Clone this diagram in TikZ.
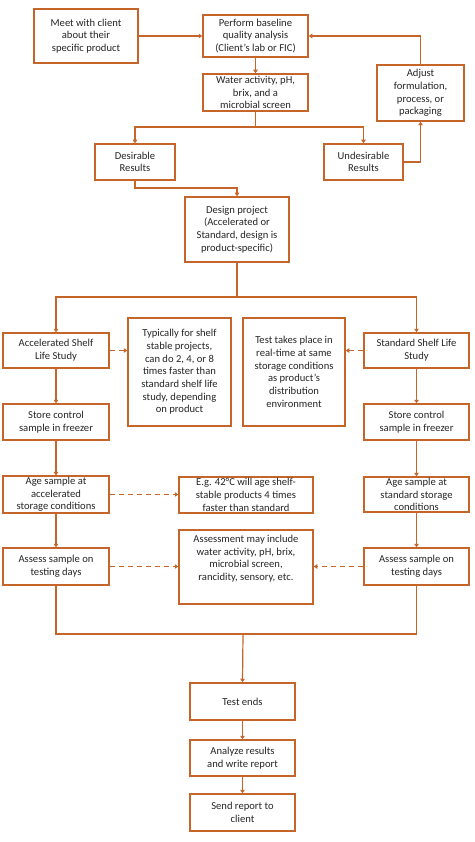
\documentclass[tikz,border=0pt]{standalone}
\usepackage{fontspec}
\setmainfont{Carlito}
\usetikzlibrary{arrows.meta}
\definecolor{orng}{HTML}{C5652A}
\definecolor{txt}{HTML}{262626}
\begin{document}
\begin{tikzpicture}[x=1pt,y=-1pt,
  bx/.style={draw=orng,line width=1.5pt,fill=white,align=center,inner sep=1pt,
    font=\fontsize{10.6}{12.7}\selectfont,text=txt},
  conn/.style={draw=orng,line width=1.2pt},
  arr/.style={conn,-{Triangle[width=4.5pt,length=3.5pt]}},
  darr/.style={arr,dash pattern=on 5pt off 4pt}]
\useasboundingbox (0,0) rectangle (474,842);
\fill[white] (0,0) rectangle (474,842);
\newcommand{\bxat}[6]{\node[bx,minimum width=#4,minimum height=#5] (#1) at (#2,#3) {#6};}
\bxat{meet}{86}{36}{104pt}{54pt}{Meet with client\\about their\\specific product}
\bxat{perform}{255.5}{36}{105pt}{42pt}{Perform baseline\\quality analysis\\(Client’s lab or FIC)}
\bxat{water}{255.5}{92.5}{105pt}{37pt}{Water activity, pH,\\brix, and a\\microbial screen}
\bxat{adjust}{420.5}{93}{87pt}{56pt}{Adjust\\formulation,\\process, or\\packaging}
\bxat{des}{135}{162}{80pt}{36pt}{Desirable\\Results}
\bxat{undes}{363.5}{162}{79pt}{36pt}{Undesirable\\Results}
\bxat{design}{237}{229.5}{104pt}{65pt}{Design project\\(Accelerated or\\Standard, design is\\product-specific)}
\bxat{acc}{56}{350.5}{106pt}{35pt}{Accelerated Shelf\\Life Study}
\bxat{typ}{179.5}{372}{103pt}{108pt}{Typically for shelf\\stable projects,\\can do 2, 4, or 8\\times faster than\\standard shelf life\\study, depending\\on product}
\bxat{testrt}{294}{372}{102pt}{108pt}{Test takes place in\\real-time at same\\storage conditions\\as product’s\\distribution\\environment}
\bxat{std}{416.5}{350.5}{105pt}{35pt}{Standard Shelf Life\\Study}
\bxat{storeL}{56}{422}{106pt}{36pt}{Store control\\sample in freezer}
\bxat{storeR}{416.5}{422}{105pt}{36pt}{Store control\\sample in freezer}
\bxat{ageL}{56}{494.5}{106pt}{35pt}{Age sample at\\accelerated\\storage conditions}
\bxat{eg}{246}{495}{134pt}{36pt}{E.g. 42°C will age shelf-\\stable products 4 times\\faster than standard}
\bxat{ageR}{416.5}{494.5}{105pt}{35pt}{Age sample at\\standard storage\\conditions}
\bxat{assL}{56}{566.5}{106pt}{37pt}{Assess sample on\\testing days}
\node[bx,minimum width=134pt,minimum height=74pt,anchor=north] (assm) at (246,529) {};
\node[align=center,anchor=north,font=\fontsize{10.6}{12.7}\selectfont,text=txt,inner sep=0pt] (assmt) at (246,535) {Assessment may include\\water activity, pH, brix,\\microbial screen,\\rancidity, sensory, etc.};
\bxat{assR}{416.5}{566.5}{105pt}{37pt}{Assess sample on\\testing days}
\bxat{testend}{242.5}{701.5}{105pt}{37pt}{Test ends}
\bxat{analyze}{242.5}{758}{105pt}{36pt}{Analyze results\\and write report}
\bxat{send}{242.5}{812.5}{105pt}{37pt}{Send report to\\client}
% coordinates
\coordinate (wbr) at (255.5,127);
\coordinate (dbr) at (237,188);
\coordinate (sbr) at (237,297);
\coordinate (mbr) at (243,634);
% connectors
\draw[arr] (meet.east) -- (perform.west);
\draw[arr] (perform.south) -- (water.north);
\draw[conn] (water.south) -- (wbr);
\draw[arr] (wbr) -| (des.north);
\draw[arr] (wbr) -| (undes.north);
\draw[arr] (undes.east) -| (adjust.south);
\draw[arr] (adjust.north) |- (perform.east);
\draw[arr] (des.south) |- (dbr) -- (design.north);
\draw[conn] (design.south) -- (sbr);
\draw[arr] (sbr) -| (acc.north);
\draw[arr] (sbr) -| (std.north);
\draw[arr] (acc) -- (storeL);
\draw[arr] (storeL) -- (ageL);
\draw[arr] (ageL) -- (assL);
\draw[arr] (std) -- (storeR);
\draw[arr] (storeR) -- (ageR);
\draw[arr] (ageR) -- (assR);
\draw[darr] (acc.east) -- (acc.east -| typ.west);
\draw[darr] (std.west) -- (std.west -| testrt.east);
\draw[darr] (ageL.east) -- (ageL.east -| eg.west);
\draw[darr] (assL.east) -- (assL.east -| assm.west);
\draw[darr] (assR.west) -- (assR.west -| assm.east);
\draw[conn] (assL.south) |- (mbr) -| (assR.south);
\draw[arr] (mbr) -- (testend.north);
\draw[arr] (testend) -- (analyze);
\draw[arr] (analyze) -- (send);
\end{tikzpicture}
\end{document}
